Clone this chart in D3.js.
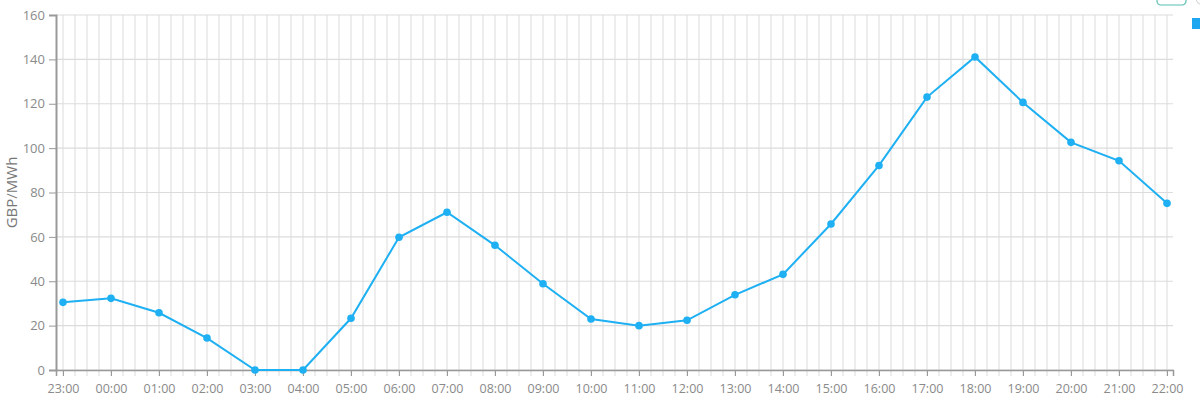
<!DOCTYPE html>
<html><head><meta charset="utf-8">
<script src="https://cdn.jsdelivr.net/npm/d3@7"></script>
<style>body{margin:0;background:#fff}svg{display:block}svg text{font-family:"Open Sans",sans-serif}</style>
</head><body>
<svg id="c" width="1200" height="405"></svg>
<script>
const hours = ["23:00","00:00","01:00","02:00","03:00","04:00","05:00","06:00","07:00","08:00","09:00","10:00","11:00","12:00","13:00","14:00","15:00","16:00","17:00","18:00","19:00","20:00","21:00","22:00"];
const prices = [30.5,32.3,25.8,14.4,0,0,23.3,59.8,71.1,56.2,38.9,23.0,20.0,22.4,33.9,43.1,65.8,92.2,123.0,141.1,120.6,102.6,94.3,75.1];
const yTicks = [0,20,40,60,80,100,120,140,160];
const yLabel = "GBP/MWh";

const svg = d3.select("#c");
const x = d3.scaleLinear().domain([-7/48, hours.length - 1 + 6/48]).range([56, 1173]);
const y = d3.scaleLinear().domain([0,160]).range([370, 15]);
const line = "#1eb0f3";

// vertical grid every 15 minutes
const minor = d3.range(0, (hours.length - 1) * 4 + 1).map(i => i / 4);
svg.append("g").selectAll("line").data(minor).join("line")
  .attr("x1", d => x(d)).attr("x2", d => x(d))
  .attr("y1", y(160)).attr("y2", y(0) + 6)
  .attr("stroke", "#e1e1e1").attr("stroke-width", 1.2);

// horizontal grid
svg.append("g").selectAll("line").data(yTicks).join("line")
  .attr("x1", x.range()[0]).attr("x2", x.range()[1])
  .attr("y1", d => y(d)).attr("y2", d => y(d))
  .attr("stroke", "#dcdcdc").attr("stroke-width", 1.2);

// x axis
const xAxis = svg.append("g").attr("transform", `translate(0,${y(0)})`)
  .call(d3.axisBottom(x).tickValues(d3.range(hours.length)).tickFormat(i => hours[i]).tickSize(6).tickPadding(8))
  .attr("font-family", null).attr("font-size", null);
xAxis.select(".domain").attr("stroke", "#999").attr("stroke-width", 1.5);
xAxis.selectAll(".tick line").attr("stroke", "#999");
xAxis.selectAll("text").attr("fill", "#8a8a8a").attr("font-size", 12.5);

// y axis
const yAxis = svg.append("g").attr("transform", `translate(${x.range()[0]},0)`)
  .call(d3.axisLeft(y).tickValues(yTicks).tickSize(7).tickPadding(4))
  .attr("font-family", null).attr("font-size", null);
yAxis.select(".domain").attr("stroke", "#999").attr("stroke-width", 2);
yAxis.selectAll(".tick line").attr("stroke", "#999");
yAxis.selectAll("text").attr("fill", "#8a8a8a").attr("font-size", 13);

svg.append("text").attr("transform", `translate(17,${(y(0)+y(160))/2}) rotate(-90)`)
  .attr("text-anchor", "middle").attr("fill", "#777").attr("font-size", 15).text(yLabel);

// line and points
svg.append("path").datum(prices)
  .attr("d", d3.line().x((d,i) => x(i)).y(d => y(d)))
  .attr("fill", "none").attr("stroke", line).attr("stroke-width", 2);
svg.append("g").selectAll("circle").data(prices).join("circle")
  .attr("cx", (d,i) => x(i)).attr("cy", d => y(d)).attr("r", 3.8).attr("fill", line);

// partial legend controls at top-right edge
svg.append("rect").attr("x", 1157).attr("y", -10).attr("width", 29).attr("height", 15).attr("rx", 4)
  .attr("fill", "none").attr("stroke", "#5bbfb0").attr("stroke-width", 1.2);
svg.append("circle").attr("cx", 1203).attr("cy", -2).attr("r", 7).attr("fill", "none").attr("stroke", "#ccc");
svg.append("rect").attr("x", 1192).attr("y", 18).attr("width", 8).attr("height", 11).attr("fill", "#1ea7f0");
</script>
</body></html>
